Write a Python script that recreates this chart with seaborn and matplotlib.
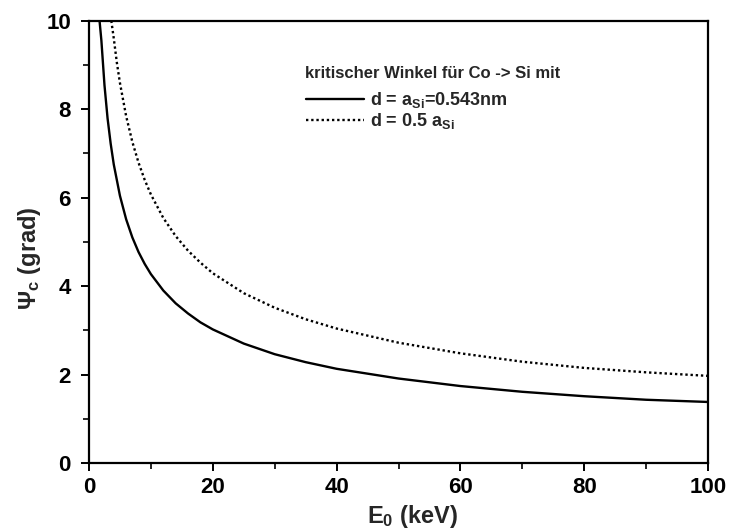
import numpy as np
import pandas as pd
import matplotlib
matplotlib.use("Agg")
import matplotlib.pyplot as plt
from matplotlib.ticker import MultipleLocator
import seaborn as sns

sns.set_theme(style="ticks")
plt.rcParams['font.family'] = ['Liberation Sans', 'DejaVu Sans']
plt.rcParams['font.weight'] = 'bold'
plt.rcParams['mathtext.fontset'] = 'custom'
plt.rcParams['mathtext.rm'] = 'Liberation Sans:bold'
plt.rcParams['mathtext.it'] = 'Liberation Sans:bold'
plt.rcParams['mathtext.bf'] = 'Liberation Sans:bold'
plt.rcParams['mathtext.default'] = 'rm'

# critical angle readings, d = a_Si (solid)
e_full = [1.7, 2, 2.5, 3, 3.5, 4, 5, 6, 7, 8, 9, 10, 12, 14, 16, 18, 20,
          25, 30, 35, 40, 50, 60, 70, 80, 90, 100]
psi_full = [10.0, 9.55, 8.54, 7.79, 7.22, 6.75, 6.04, 5.51, 5.10, 4.77, 4.50,
            4.27, 3.90, 3.61, 3.38, 3.18, 3.02, 2.70, 2.46, 2.28, 2.13, 1.91,
            1.74, 1.61, 1.51, 1.43, 1.38]

# critical angle readings, d = 0.5 a_Si (dotted)
e_half = [3.6, 4, 4.5, 5, 6, 7, 8, 9, 10, 12, 14, 16, 18, 20, 25, 30, 35,
          40, 50, 60, 70, 80, 90, 100]
psi_half = [10.0, 9.6, 9.05, 8.59, 7.84, 7.26, 6.79, 6.40, 6.07, 5.54, 5.13,
            4.80, 4.53, 4.29, 3.84, 3.51, 3.25, 3.04, 2.72, 2.48, 2.29, 2.15,
            2.05, 1.97]

legend_title = "kritischer Winkel für Co -> Si mit"
label_full = "d = a$_{Si}$=0.543nm"
label_half = "d = 0.5 a$_{Si}$"

df = pd.concat([
    pd.DataFrame({"E": e_full, "psi": psi_full, "d": label_full}),
    pd.DataFrame({"E": e_half, "psi": psi_half, "d": label_half}),
])

fig = plt.figure(figsize=(7.32, 5.30), dpi=100)
ax = fig.add_axes([0.1216, 0.1264, 0.8456, 0.8346])

sns.lineplot(data=df, x="E", y="psi", hue="d", style="d",
             palette=["black", "black"],
             dashes={label_full: "", label_half: (1, 1.2)},
             linewidth=1.7, sort=False, estimator=None, ax=ax)

ax.set_xlim(0, 100)
ax.set_ylim(0, 10)
ax.xaxis.set_major_locator(MultipleLocator(20))
ax.xaxis.set_minor_locator(MultipleLocator(10))
ax.yaxis.set_major_locator(MultipleLocator(2))
ax.yaxis.set_minor_locator(MultipleLocator(1))
ax.tick_params(which="major", direction="out", length=6, width=1.4,
               labelsize=16, color="black", labelcolor="black", pad=4)
ax.tick_params(axis="y", which="major", pad=7)
ax.tick_params(which="minor", direction="out", length=4, width=1.2,
               color="black")
for s in ax.spines.values():
    s.set_linewidth(1.6)
    s.set_color("black")

ax.set_xlabel("E$_0$ (keV)", fontsize=17, fontweight="bold")
ax.set_ylabel("Ψ$_c$ (grad)", fontsize=17, fontweight="bold")
ax.xaxis.set_label_coords(0.522, -0.09)
ax.yaxis.set_label_coords(-0.074, 0.464)

ax.text(0.349, 0.880, legend_title, transform=ax.transAxes,
        fontsize=12, fontweight="bold", ha="left", va="center")
ax.legend(loc="upper left", bbox_to_anchor=(0.325, 0.879),
          frameon=False, fontsize=13,
          handlelength=3.2, handletextpad=0.3, labelspacing=0.05)

fig.savefig("out.png", dpi=100)
